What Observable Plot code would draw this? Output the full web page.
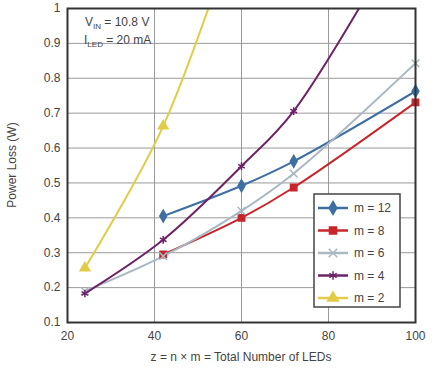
<!DOCTYPE html>
<html>
<head>
<meta charset="utf-8">
<script src="https://cdn.jsdelivr.net/npm/d3@7"></script>
<script src="https://cdn.jsdelivr.net/npm/@observablehq/plot@0.6"></script>
<style>
  html, body { margin: 0; padding: 0; background: #fff; }
  svg { font-family: "Liberation Sans", Arial, sans-serif; }
</style>
</head>
<body>
<div id="chart"></div>
<script>
const seriesNames = ["m = 12", "m = 8", "m = 6", "m = 4", "m = 2"];
const seriesColors = ["#3d6fa3", "#c8262b", "#aab8c2", "#6e2367", "#e3cc45"];
const seriesSymbols = ["diamond", "square", "times", "asterisk", "triangle"];

const zM12 = [42, 60, 72, 100];
const lossM12 = [0.405, 0.492, 0.562, 0.763];
const zM8 = [42, 60, 72, 100];
const lossM8 = [0.295, 0.400, 0.487, 0.731];
const zM6 = [24, 42, 60, 72, 100];
const lossM6 = [0.190, 0.290, 0.420, 0.527, 0.843];
const zM4 = [24, 42, 60, 72, 100];
const lossM4 = [0.183, 0.337, 0.548, 0.706, 1.28];
const zM2 = [24, 42, 60];
const lossM2 = [0.256, 0.663, 1.28];

const xTicks = [20, 40, 60, 80, 100];
const yTicks = [0.1, 0.2, 0.3, 0.4, 0.5, 0.6, 0.7, 0.8, 0.9, 1];

const zs = [zM12, zM8, zM6, zM4, zM2];
const losses = [lossM12, lossM8, lossM6, lossM4, lossM2];
const data = [];
seriesNames.forEach((name, i) => {
  zs[i].forEach((z, j) => data.push({series: name, z, loss: losses[i][j]}));
});
const inRange = data.filter(d => d.loss <= 1);

const W = 438, H = 372;

const chart = Plot.plot({
  width: W,
  height: H,
  marginLeft: 67,
  marginRight: 23,
  marginTop: 8,
  marginBottom: 50,
  style: {fontFamily: '"Liberation Sans", Arial, sans-serif', fontSize: "12px", color: "#444", background: "#fff"},
  x: {domain: [20, 100], label: null},
  y: {domain: [0.1, 1], label: null},
  color: {domain: seriesNames, range: seriesColors},
  symbol: {domain: seriesNames, range: seriesSymbols},
  marks: [
    Plot.gridX(xTicks, {stroke: "#9a9a9a", strokeOpacity: 1, strokeWidth: 1}),
    Plot.gridY(yTicks, {stroke: "#9a9a9a", strokeOpacity: 1, strokeWidth: 1}),
    Plot.line(data, {x: "z", y: "loss", z: "series", stroke: "series", strokeWidth: 2, curve: "catmull-rom", clip: true}),
    Plot.dot(inRange, {x: "z", y: "loss", symbol: "series", fill: "series", stroke: "series", r: 3.6, strokeWidth: 1.5}),
    Plot.frame({stroke: "#333", strokeWidth: 2}),
    Plot.axisX(xTicks, {tickSize: 0, tickPadding: 9, label: null}),
    Plot.axisY(yTicks, {tickSize: 0, tickPadding: 7, tickFormat: d3.format("~g"), label: null})
  ]
});

document.getElementById("chart").appendChild(chart);

const svg = d3.select(chart);
const sx = chart.scale("x"), sy = chart.scale("y");
const pxLeft = sx.apply(20), pxRight = sx.apply(100), pxTop = sy.apply(1), pxBottom = sy.apply(0.1);

// Axis titles
svg.append("text")
  .attr("transform", `translate(16,${(pxTop + pxBottom) / 2}) rotate(-90)`)
  .attr("text-anchor", "middle")
  .attr("font-size", 12)
  .attr("fill", "#444")
  .text("Power Loss (W)");

svg.append("text")
  .attr("x", (pxLeft + pxRight) / 2)
  .attr("y", H - 11)
  .attr("text-anchor", "middle")
  .attr("font-size", 12)
  .attr("fill", "#444")
  .text("z = n \u00d7 m = Total Number of LEDs");

// Conditions annotation
const ann = svg.append("g").attr("font-size", 12).attr("fill", "#444").attr("text-anchor", "start");
const t1 = ann.append("text").attr("x", pxLeft + 18).attr("y", pxTop + 18);
t1.append("tspan").text("V");
t1.append("tspan").attr("font-size", 8).attr("dy", 3).text("IN");
t1.append("tspan").attr("dy", -3).text(" = 10.8 V");
const t2 = ann.append("text").attr("x", pxLeft + 17).attr("y", pxTop + 36);
t2.append("tspan").text("I");
t2.append("tspan").attr("font-size", 8).attr("dy", 3).text("LED");
t2.append("tspan").attr("dy", -3).text(" = 20 mA");

// Legend
const lg = svg.append("g").attr("text-anchor", "start");
const lx = 314, ly = 194, lw = 86, lh = 113;
lg.append("rect").attr("x", lx).attr("y", ly).attr("width", lw).attr("height", lh)
  .attr("fill", "#fff").attr("stroke", "#444").attr("stroke-width", 1.5);
const symMap = {diamond: d3.symbolDiamond, square: d3.symbolSquare, times: d3.symbolTimes, asterisk: d3.symbolAsterisk, triangle: d3.symbolTriangle};
seriesNames.forEach((name, i) => {
  const cy = ly + 14 + i * 22.5;
  lg.append("line").attr("x1", lx + 4).attr("x2", lx + 34).attr("y1", cy).attr("y2", cy)
    .attr("stroke", seriesColors[i]).attr("stroke-width", 2.5);
  lg.append("path").attr("d", d3.symbol(symMap[seriesSymbols[i]], 50)())
    .attr("transform", `translate(${lx + 19},${cy})`)
    .attr("fill", seriesColors[i]).attr("stroke", seriesColors[i]).attr("stroke-width", 1.5);
  lg.append("text").attr("x", lx + 40).attr("y", cy).attr("dy", "0.35em")
    .attr("font-size", 12).attr("fill", "#444").text(name);
});
</script>
</body>
</html>
